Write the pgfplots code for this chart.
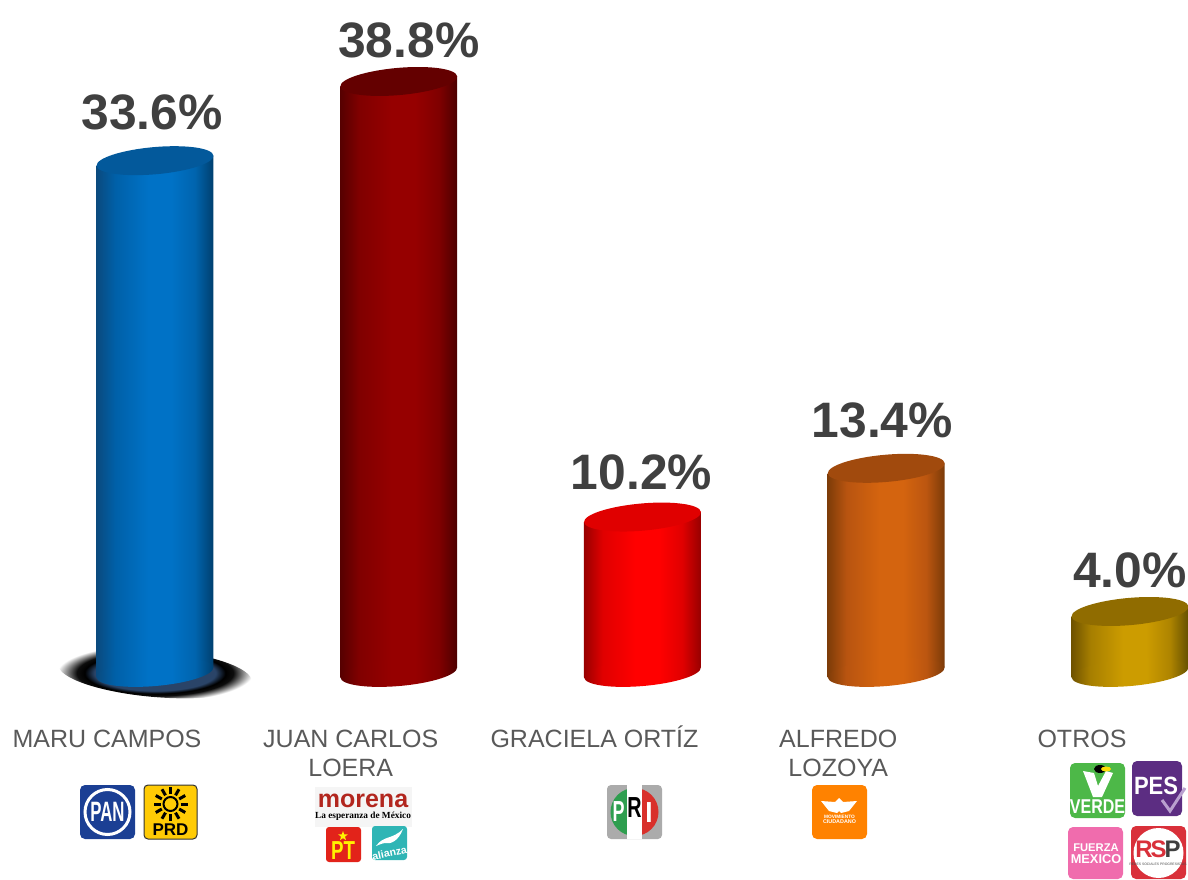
\documentclass[border=0pt]{standalone}
\usepackage{fontspec}
\setmainfont{Liberation Sans}
\newfontfamily\serifb{Liberation Serif}
\usepackage{pgfplots}
\pgfplotsset{compat=1.18}
\usetikzlibrary{shapes.geometric,calc}
\definecolor{lab}{HTML}{404040}
\definecolor{cat}{HTML}{595959}
\definecolor{shblue}{HTML}{2A4468}
\pgfdeclareradialshading{groundshadow}{\pgfpointorigin}{color(0bp)=(shblue); color(15.5bp)=(shblue); color(18bp)=(black); color(20bp)=(black!95); color(25bp)=(white); color(50bp)=(white)}
% cylinder body shadings: stops 25bp..75bp span the body
\newcommand\cylshade[6]{\definecolor{#1a}{HTML}{#2}\definecolor{#1b}{HTML}{#3}\definecolor{#1c}{HTML}{#4}\definecolor{#1d}{HTML}{#5}\definecolor{#1e}{HTML}{#6}%
 \pgfdeclarehorizontalshading{cyl#1}{100bp}{color(0bp)=(#1a); color(25bp)=(#1a); color(33bp)=(#1b); color(47bp)=(#1c); color(57bp)=(#1c); color(67bp)=(#1d); color(75bp)=(#1e); color(100bp)=(#1e)}%
 \pgfdeclareplotmark{base#1}{\pgfpathellipse{\pgfpointorigin}{\pgfqpoint{58.4pt}{5.1pt}}{\pgfqpoint{-1.19pt}{13.55pt}}\pgfshadepath{cyl#1}{0}\pgfusepath{discard}}%
 \pgfdeclareplotmark{top#1}{\pgfpathellipse{\pgfpointorigin}{\pgfqpoint{58.4pt}{5.1pt}}{\pgfqpoint{-1.19pt}{13.55pt}}\pgfusepathqfill}}
\cylshade{Blue}{0A4A7E}{0060A8}{0072C6}{0064AE}{003F6E}
\cylshade{Wine}{560000}{800000}{960000}{800000}{4C0000}
\cylshade{Red}{980000}{E00000}{FF0000}{E00000}{960000}
\cylshade{Orange}{7E3C08}{B85410}{D4640F}{BC5610}{7A3A08}
\cylshade{Gold}{6E5200}{A67E00}{CC9C00}{AE8400}{645000}
\definecolor{winecap}{HTML}{640000}
\newcommand\pct{\fontsize{49.8}{54}\selectfont\bfseries}
\pgfplotsset{cyllabel/.style={only marks,
  nodes near coords={\pgfmathprintnumber[fixed,fixed zerofill,precision=1,assume math mode=true]{\pgfplotspointmeta}\%},
  nodes near coords style={anchor=center,font=\pct,text=lab,inner sep=0pt}}}
\begin{document}
\begin{tikzpicture}
\useasboundingbox (0pt,0pt) rectangle (1188pt,879pt);
% ground shadow
\begin{scope}[x=1pt,y=-1pt,shift={(0pt,879pt)}]
\shade[shading=groundshadow,rotate around={-5:(155,673)}] (155,673) ellipse [x radius=97,y radius=24];
\end{scope}
\begin{axis}[at={(0pt,164pt)},anchor=south west,scale only axis,width=1188pt,height=715pt,
  xmin=-0.6359,xmax=4.238,ymin=-2.797,ymax=44.15,clip=false,
  axis line style={draw=none},tick style={draw=none},ytick=\empty,
  xtick={0,1,2,3,4},
  xticklabels={{\rule{0pt}{24pt}MARU CAMPOS},{\rule{0pt}{24pt}JUAN CARLOS\\LOERA},{\rule{0pt}{24pt}GRACIELA ORTÍZ},{\rule{0pt}{24pt}ALFREDO\\LOZOYA},{\rule{0pt}{24pt}OTROS}},
  xticklabel style={align=center,anchor=north,xshift=-48pt,yshift=-5pt,font=\fontsize{25}{29}\selectfont,text=cat}]
% Maru Campos
\addplot[only marks,mark=baseBlue] coordinates {(0,0)};
\addplot[draw=none,shade,shading=cylBlue] coordinates {(-0.24,33.27) (0.24,33.93) (0.24,0.33) (-0.24,-0.33)};
\addplot[cyllabel,mark=topBlue,mark options={fill=Bluea!30!Blueb,draw=none},every node near coord/.append style={xshift=-3pt,yshift=48pt}] table[x=x,y=value] {
x value
0 33.6
};
% Juan Carlos Loera
\addplot[only marks,mark=baseWine] coordinates {(1,0)};
\addplot[draw=none,shade,shading=cylWine] coordinates {(0.76,38.47) (1.24,39.13) (1.24,0.33) (0.76,-0.33)};
\addplot[cyllabel,mark=topWine,mark options={fill=winecap,draw=none},every node near coord/.append style={xshift=10pt,yshift=41.5pt}] table[x=x,y=value] {
x value
1 38.8
};
% Graciela Ortiz
\addplot[only marks,mark=baseRed] coordinates {(2,0)};
\addplot[draw=none,shade,shading=cylRed] coordinates {(1.76,9.87) (2.24,10.53) (2.24,0.33) (1.76,-0.33)};
\addplot[cyllabel,mark=topRed,mark options={fill=Redb,draw=none},every node near coord/.append style={xshift=-1pt,yshift=44.5pt}] table[x=x,y=value] {
x value
2 10.2
};
% Alfredo Lozoya
\addplot[only marks,mark=baseOrange] coordinates {(3,0)};
\addplot[draw=none,shade,shading=cylOrange] coordinates {(2.76,13.07) (3.24,13.73) (3.24,0.33) (2.76,-0.33)};
\addplot[cyllabel,mark=topOrange,mark options={fill=Orangea!40!Orangeb,draw=none},every node near coord/.append style={xshift=-4pt,yshift=48pt}] table[x=x,y=value] {
x value
3 13.4
};
% Otros
\addplot[only marks,mark=baseGold] coordinates {(4,0)};
\addplot[draw=none,shade,shading=cylGold] coordinates {(3.76,3.67) (4.24,4.33) (4.24,0.33) (3.76,-0.33)};
\addplot[cyllabel,mark=topGold,mark options={fill=Golda!40!Goldb,draw=none},every node near coord/.append style={xshift=0pt,yshift=41pt}] table[x=x,y=value] {
x value
4 4.0
};
\end{axis}
% party logos, in the reference's pixel coordinates
\definecolor{pesch}{RGB}{185,160,207}
\definecolor{rspred}{RGB}{217,48,58}
\begin{scope}[x=1pt,y=-1pt,shift={(0pt,879pt)},every node/.style={inner sep=0pt,anchor=center}]
% PAN
\fill[rounded corners=5pt,fill={rgb,255:red,27;green,63;blue,148}] (80,785) rectangle (135,839);
\draw[white,line width=3pt] (107.5,812) circle (22.5);
\node[text=white,font=\fontsize{28}{28}\selectfont\bfseries,xscale=.6] at (107.5,812) {PAN};
% PRD
\filldraw[draw={rgb,255:red,50;green,50;blue,50},line width=1pt,rounded corners=4pt,fill={rgb,255:red,255;green,203;blue,5}] (144,785) rectangle (197,839);
\draw[black,line width=2pt] (170.5,804) circle (7);
\foreach \a in {0,30,...,330} \draw[black,line width=3pt] ($(170.5,804)+(\a:10)$) -- ($(170.5,804)+(\a:17)$);
\node[text=black,font=\fontsize{17}{17}\selectfont\bfseries] at (170.5,830) {PRD};
% morena
\fill[black!4] (315,787) rectangle (412,827);
\node[text={rgb,255:red,178;green,38;blue,30},font=\fontsize{25}{25}\selectfont\bfseries] at (363,801) {morena};
\node[text=black,font=\serifb\fontsize{9.3}{10}\selectfont\bfseries] at (363,816) {La esperanza de México};
% PT
\fill[rounded corners=3pt,fill={rgb,255:red,226;green,35;blue,26}] (326,827) rectangle (361,862);
\node[star,star points=5,star point ratio=2.4,fill=yellow,minimum size=10pt] at (343,836) {};
\node[text=yellow,font=\fontsize{26}{26}\selectfont\bfseries,xscale=.72] at (343,851) {PT};
% Alianza
\fill[rounded corners=3pt,fill={rgb,255:red,47;green,181;blue,181}] (372,826) rectangle (407,860);
\fill[white] (376,846) .. controls (384,835) and (392,840) .. (403,829) .. controls (398,842) and (390,844) .. (386,843) .. controls (382,843) and (379,845) .. (376,846) -- cycle;
\node[text=white,rotate=12,font=\fontsize{10.5}{11}\selectfont\bfseries] at (389.5,853) {alianza};
% PRI
\fill[rounded corners=4pt,fill=black!33] (607,785) rectangle (662,839);
\fill[white] (627,785) rectangle (642,839);
\begin{scope}
\clip (634.5,812) circle (24);
\fill[fill={rgb,255:red,46;green,158;blue,79}] (600,780) rectangle (627,845);
\fill[fill={rgb,255:red,217;green,48;blue,43}] (642,780) rectangle (670,845);
\end{scope}
\node[text=white,font=\fontsize{29}{29}\selectfont\bfseries,xscale=.62] at (618.5,812) {P};
\node[text=black,font=\fontsize{29}{29}\selectfont\bfseries,xscale=.68] at (634.5,808) {R};
\node[text=white,font=\fontsize{29}{29}\selectfont\bfseries,xscale=.9] at (649,813) {I};
% Movimiento Ciudadano
\fill[rounded corners=5pt,fill={rgb,255:red,255;green,130;blue,0}] (812,785) rectangle (867,839);
\fill[white] (821,801) -- (835,802) -- (839,798) -- (843,802) -- (857,801) -- (849,811) -- (841,813) -- (839,811) -- (837,813) -- (829,811) -- cycle;
\node[text=white,font=\fontsize{4.8}{5}\selectfont\bfseries] at (839.5,817) {MOVIMIENTO};
\node[text=white,font=\fontsize{5.4}{6}\selectfont\bfseries] at (839.5,821.5) {CIUDADANO};
% Verde
\fill[rounded corners=5pt,fill={rgb,255:red,77;green,184;blue,72}] (1070,763) rectangle (1125,818);
\fill[white] (1083,771) -- (1094,773) -- (1098,786) -- (1106,771) -- (1113,773) -- (1102,797) -- (1093,797) -- cycle;
\fill[black] (1100,769) ellipse (6 and 4);
\fill[yellow!80!orange] (1106,769) ellipse (5 and 2.5);
\node[text=white,font=\fontsize{20}{20}\selectfont\bfseries,xscale=.8] at (1097.5,806.5) {VERDE};
% PES
\fill[rounded corners=5pt,fill={rgb,255:red,92;green,45;blue,130}] (1132,761) rectangle (1182,816);
\node[text=white,font=\fontsize{25}{25}\selectfont\bfseries,xscale=.88] at (1156,786) {PES};
\draw[pesch,line width=3pt] (1162,800) -- (1170,811) -- (1185,788);
% Fuerza Mexico
\fill[rounded corners=5pt,fill={rgb,255:red,240;green,108;blue,173}] (1068,827) rectangle (1123,879);
\node[text=white,font=\fontsize{11.2}{12}\selectfont\bfseries] at (1096,848) {FUERZA};
\node[text=white,font=\fontsize{12.8}{13}\selectfont\bfseries] at (1096,859) {MEXICO};
% RSP
\fill[rounded corners=5pt,fill={rgb,255:red,217;green,48;blue,58}] (1131,826) rectangle (1186,879);
\fill[white] (1158.5,853) circle (25);
\node[text=black!75,font=\fontsize{24}{24}\selectfont\bfseries] at (1158,849) {\textcolor{rspred}{R}\kern-2pt\textcolor{rspred}{S}\kern-2pt P};
\node[text=black!70,font=\fontsize{3.4}{4}\selectfont] at (1158,864) {REDES SOCIALES PROGRESISTAS};
\end{scope}
\end{tikzpicture}
\end{document}
